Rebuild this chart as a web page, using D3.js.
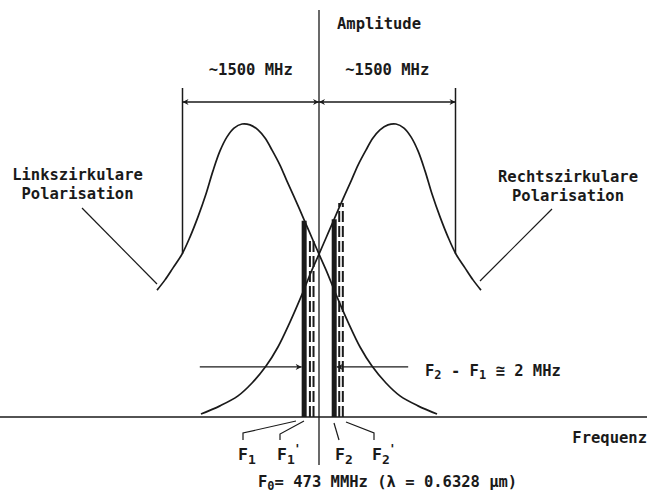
<!DOCTYPE html>
<html><head><meta charset="utf-8">
<script src="https://cdn.jsdelivr.net/npm/d3@7"></script>
<style>
html,body{margin:0;padding:0;background:#fff;}
text{font-family:"DejaVu Sans Mono",monospace;font-weight:bold;fill:#1a1a1a;}
</style></head>
<body><svg id="c" width="652" height="495"></svg>
<script>
// ---- data (frequency offset from F0 in MHz, schematic; amplitude normalised) ----
const leftFreq  = [-1780,-1692,-1604,-1505,-1418,-1330,-1242,-1165,-1088,-1011,-934,-846,-758,-670,-593,-516,-429,-352,-253,-154,-77,0,77,198,319,451,582,736,890,1088,1297];
const leftAmp   = [0.433,0.468,0.509,0.556,0.614,0.683,0.761,0.840,0.908,0.956,0.986,1.000,0.997,0.980,0.952,0.911,0.860,0.805,0.737,0.666,0.611,0.556,0.502,0.410,0.324,0.239,0.174,0.116,0.072,0.038,0.010];
const rightFreq = [-1297,-1088,-890,-736,-582,-451,-319,-198,-77,0,77,154,253,352,429,516,593,670,758,846,934,1011,1088,1165,1242,1330,1418,1505,1604,1692,1780];
const rightAmp  = [0.010,0.038,0.072,0.116,0.174,0.239,0.324,0.410,0.502,0.556,0.611,0.666,0.737,0.805,0.860,0.911,0.952,0.980,0.997,1.000,0.986,0.956,0.908,0.840,0.761,0.683,0.614,0.556,0.509,0.468,0.433];
const modeNames = ["F1","F1'","F2","F2'"];
const modeFreq  = [-163,-80,167,242];
const modeAmp   = [0.670,0.613,0.675,0.730];
const bracketFreq = [-1500,0,1500];
const bracketLabels = ["~1500 MHz","~1500 MHz"];

const svg = d3.select("#c");
const ink = "#1a1a1a";
const X = d3.scaleLinear().domain([-1500,1500]).range([182.5,455.5]);
const Y = d3.scaleLinear().domain([0,1]).range([417,124]);

const defs = svg.append("defs");
defs.append("marker").attr("id","ar").attr("viewBox","0 0 10 10").attr("refX",10).attr("refY",5)
   .attr("markerWidth",8).attr("markerHeight",6).attr("markerUnits","userSpaceOnUse").attr("orient","auto-start-reverse")
   .append("path").attr("d","M0,0L10,5L0,10L3,5Z").attr("fill",ink);

// baseline (frequency axis)
svg.append("line").attr("x1",0).attr("x2",647).attr("y1",Y(0)).attr("y2",Y(0))
  .attr("stroke",ink).attr("stroke-width",1.5);
// amplitude axis
svg.append("line").attr("x1",X(0)).attr("x2",X(0)).attr("y1",10).attr("y2",465)
  .attr("stroke",ink).attr("stroke-width",1.3);

// curves
const line = d3.line().x(d=>X(d[0])).y(d=>Y(d[1])).curve(d3.curveCatmullRom);
svg.append("path").attr("d",line(d3.zip(leftFreq,leftAmp))).attr("fill","none").attr("stroke",ink).attr("stroke-width",1.7);
svg.append("path").attr("d",line(d3.zip(rightFreq,rightAmp))).attr("fill","none").attr("stroke",ink).attr("stroke-width",1.7);

// mode lines
modeNames.forEach((n,i)=>{
  const x = X(modeFreq[i]);
  if(n.includes("'")){
    [-1.8,1.8].forEach(dx=>{
      svg.append("line").attr("x1",x+dx).attr("x2",x+dx).attr("y1",Y(0)).attr("y2",Y(modeAmp[i]))
        .attr("stroke",ink).attr("stroke-width",2).attr("stroke-dasharray","11,4");
    });
  } else {
    svg.append("line").attr("x1",x).attr("x2",x).attr("y1",Y(0)).attr("y2",Y(modeAmp[i]))
      .attr("stroke",ink).attr("stroke-width",5);
  }
});

// brackets
const yb = 102;
[0,2].forEach(i=>{
  svg.append("line").attr("x1",X(bracketFreq[i])).attr("x2",X(bracketFreq[i])).attr("y1",88).attr("y2",Y(0.556))
    .attr("stroke",ink).attr("stroke-width",1.5);
});
for(let i=0;i<2;i++){
  svg.append("line").attr("x1",X(bracketFreq[i])).attr("x2",X(bracketFreq[i+1])).attr("y1",yb).attr("y2",yb)
    .attr("stroke",ink).attr("stroke-width",1.4).attr("marker-start","url(#ar)").attr("marker-end","url(#ar)");
  svg.append("text").attr("x",(X(bracketFreq[i])+X(bracketFreq[i+1]))/2).attr("y",75).attr("text-anchor","middle")
    .attr("font-size",15.5).text(bracketLabels[i]);
}

// axis titles
svg.append("text").attr("x",337).attr("y",29).attr("font-size",15.5).text("Amplitude");
svg.append("text").attr("x",647).attr("y",443).attr("text-anchor","end").attr("font-size",15.5).text("Frequenz");

// polarisation labels
function twoLine(cx,y1,y2,a,b){
  svg.append("text").attr("x",cx).attr("y",y1).attr("text-anchor","middle").attr("font-size",15.5).text(a);
  svg.append("text").attr("x",cx).attr("y",y2).attr("text-anchor","middle").attr("font-size",15.5).text(b);
}
twoLine(77.5,180,199,"Linkszirkulare","Polarisation");
twoLine(568,182,201,"Rechtszirkulare","Polarisation");
svg.append("line").attr("x1",82).attr("y1",208).attr("x2",157).attr("y2",284).attr("stroke",ink).attr("stroke-width",1.2);
svg.append("line").attr("x1",552).attr("y1",209).attr("x2",480).attr("y2",281).attr("stroke",ink).attr("stroke-width",1.2);

// F2 - F1 arrows
const ya = Y(0.171);
svg.append("line").attr("x1",X(-1310)).attr("x2",X(modeFreq[0])-2.5).attr("y1",ya).attr("y2",ya)
  .attr("stroke",ink).attr("stroke-width",1.3).attr("marker-end","url(#ar)");
svg.append("line").attr("x1",X(980)).attr("x2",X(modeFreq[2])+2.5).attr("y1",ya).attr("y2",ya)
  .attr("stroke",ink).attr("stroke-width",1.3).attr("marker-end","url(#ar)");
const t = svg.append("text").attr("x",425).attr("y",376).attr("font-size",15.5);
t.append("tspan").text("F");
t.append("tspan").attr("font-size",12).attr("dy",3).text("2");
t.append("tspan").attr("dy",-3).text(" - F");
t.append("tspan").attr("font-size",12).attr("dy",3).text("1");
t.append("tspan").attr("dy",-3).text(" \u2245 2 MHz");

// mode labels and leaders
const leaders = [
  [[243,440],[243,433],[296,421]],
  [[280,440],[280,434],[304,421]],
  [[334,423],[339,440]],
  [[346,422],[374,433],[374,440]]
];
const lab = [238,277,335,372];
leaders.forEach(p=>{
  svg.append("path").attr("d",d3.line()(p)).attr("fill","none").attr("stroke",ink).attr("stroke-width",1.2);
});
modeNames.forEach((n,i)=>{
  const tx = svg.append("text").attr("x",lab[i]).attr("y",460).attr("font-size",16.5);
  tx.append("tspan").text("F");
  tx.append("tspan").attr("font-size",13).attr("dy",4).text(n[1]);
  if(n.includes("'")){
    tx.append("tspan").attr("font-size",12).attr("dx",-1).attr("dy",-11).text("'");
  }
});

// F0 line
const f0 = svg.append("text").attr("x",258).attr("y",487).attr("font-size",15.5);
f0.append("tspan").text("F");
f0.append("tspan").attr("font-size",12).attr("dy",3).text("0");
f0.append("tspan").attr("dy",-3).text("= 473 MMHz (\u03bb = 0.6328 \u00b5m)");
</script></body></html>
